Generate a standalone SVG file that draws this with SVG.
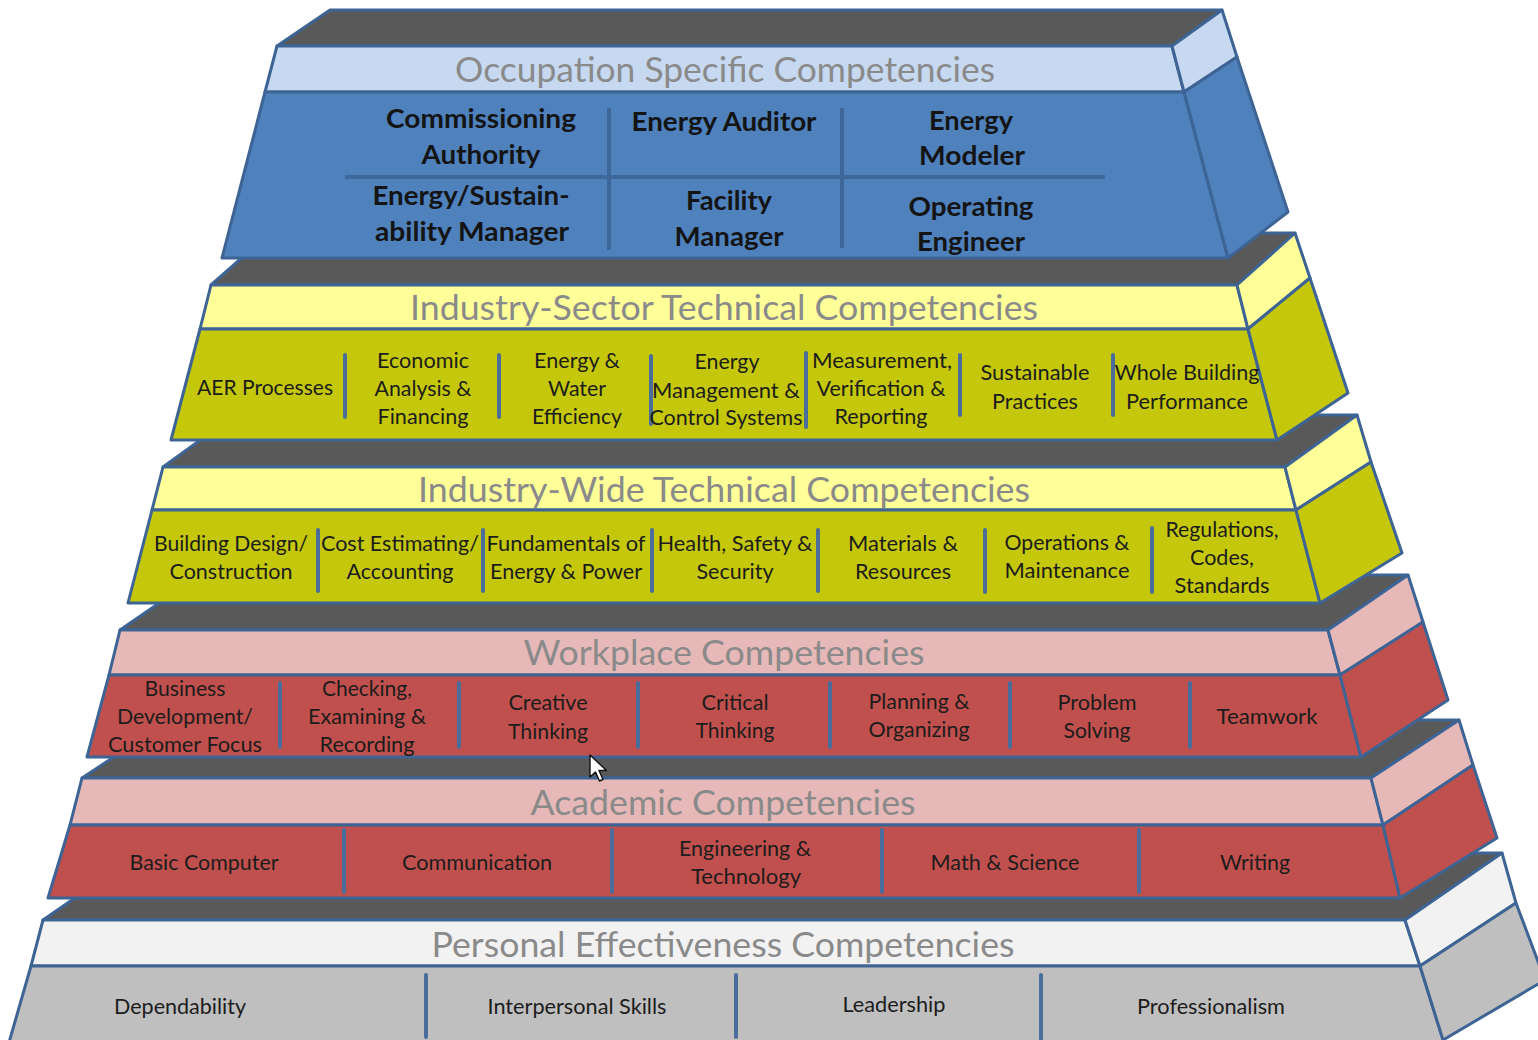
<svg xmlns="http://www.w3.org/2000/svg" width="1538" height="1040" viewBox="0 0 1538 1040">
  <style>
    .edge { stroke: #3d6494; stroke-width: 3; stroke-linejoin: round; }
    .top { fill: #595959; }
    .hb { fill: #c6d9f1; } .bb { fill: #4f81bd; }
    .hy { fill: #ffff99; } .by { fill: #c4c70a; }
    .hr { fill: #e6b9b8; } .br { fill: #c0504d; }
    .hg { fill: #f2f2f2; } .bg { fill: #bfbfbf; }
    .sep { stroke: #4a6d9b; stroke-width: 4; stroke-linecap: round; fill: none; }
    .sep1 { stroke: #3f6698; stroke-width: 4; fill: none; }
    text { font-family: Lato, "Liberation Sans", sans-serif; text-anchor: middle; }
    .ht { font-size: 34px; fill: #8a8a8a; }
    .ct { font-size: 21px; fill: #1c1c1c; }
    .bt { font-size: 27px; font-weight: 700; fill: #141414; }
  </style>
  <rect width="1538" height="1040" fill="#ffffff"/>

  <!-- Bottom tier: Personal Effectiveness -->
  <g id="tier-personal">
    <polygon class="top edge" points="140,853 1502,853 1405,920 43,920"/>
    <polygon class="hg edge" points="43,920 1405,920 1420,966 31,966"/>
    <polygon class="bg edge" points="31,966 1420,966 1445,1046 8,1046"/>
    <polygon class="hg edge" points="1405,920 1502,853 1516,903 1420,966"/>
    <polygon class="bg edge" points="1420,966 1516,903 1545,980 1443,1040"/>
    <text class="ht" x="723" y="957" textLength="583" lengthAdjust="spacingAndGlyphs">Personal Effectiveness Competencies</text>
    <path class="sep" d="M426,975V1037M736,975V1037M1041,975V1040"/>
    <text class="ct" x="180" y="1014" textLength="132" lengthAdjust="spacingAndGlyphs">Dependability</text>
    <text class="ct" x="577" y="1014" textLength="179" lengthAdjust="spacingAndGlyphs">Interpersonal Skills</text>
    <text class="ct" x="894" y="1012" textLength="103" lengthAdjust="spacingAndGlyphs">Leadership</text>
    <text class="ct" x="1211" y="1014" textLength="148" lengthAdjust="spacingAndGlyphs">Professionalism</text>
  </g>

  <!-- Academic -->
  <g id="tier-academic">
    <polygon class="top edge" points="170,720 1459,720 1371,778 82,778"/>
    <polygon class="hr edge" points="82,778 1371,778 1383,825 70,825"/>
    <polygon class="br edge" points="70,825 1383,825 1400,898 48,898"/>
    <polygon class="hr edge" points="1371,778 1459,720 1473,765 1383,825"/>
    <polygon class="br edge" points="1383,825 1473,765 1497,838 1400,898"/>
    <text class="ht" x="723" y="815" textLength="385" lengthAdjust="spacingAndGlyphs">Academic Competencies</text>
    <path class="sep" d="M344,830V892M612,830V892M882,830V892M1139,830V892"/>
    <text class="ct" x="204" y="870" textLength="149" lengthAdjust="spacingAndGlyphs">Basic Computer</text>
    <text class="ct" x="477" y="870" textLength="150" lengthAdjust="spacingAndGlyphs">Communication</text>
    <text class="ct" x="745" y="856" textLength="132" lengthAdjust="spacingAndGlyphs">Engineering &amp;</text>
    <text class="ct" x="746" y="884" textLength="110" lengthAdjust="spacingAndGlyphs">Technology</text>
    <text class="ct" x="1005" y="870" textLength="149" lengthAdjust="spacingAndGlyphs">Math &amp; Science</text>
    <text class="ct" x="1255" y="870" textLength="70" lengthAdjust="spacingAndGlyphs">Writing</text>
  </g>

  <!-- Workplace -->
  <g id="tier-workplace">
    <polygon class="top edge" points="200,575 1408,575 1328,630 120,630"/>
    <polygon class="hr edge" points="120,630 1328,630 1340,675 109,675"/>
    <polygon class="br edge" points="109,675 1340,675 1361,757 87,757"/>
    <polygon class="hr edge" points="1328,630 1408,575 1423,622 1340,675"/>
    <polygon class="br edge" points="1340,675 1423,622 1448,700 1361,757"/>
    <text class="ht" x="724" y="665" textLength="401" lengthAdjust="spacingAndGlyphs">Workplace Competencies</text>
    <path class="sep" d="M280,683V747M459,683V747M638,683V747M830,683V747M1010,683V747M1190,683V747"/>
    <text class="ct" x="185" y="696" textLength="81" lengthAdjust="spacingAndGlyphs">Business</text>
    <text class="ct" x="185" y="724" textLength="136" lengthAdjust="spacingAndGlyphs">Development/</text>
    <text class="ct" x="185" y="752" textLength="154" lengthAdjust="spacingAndGlyphs">Customer Focus</text>
    <text class="ct" x="367" y="696" textLength="90" lengthAdjust="spacingAndGlyphs">Checking,</text>
    <text class="ct" x="367" y="724" textLength="118" lengthAdjust="spacingAndGlyphs">Examining &amp;</text>
    <text class="ct" x="367" y="752" textLength="95" lengthAdjust="spacingAndGlyphs">Recording</text>
    <text class="ct" x="548" y="710" textLength="79" lengthAdjust="spacingAndGlyphs">Creative</text>
    <text class="ct" x="548" y="739" textLength="80" lengthAdjust="spacingAndGlyphs">Thinking</text>
    <text class="ct" x="735" y="710" textLength="67" lengthAdjust="spacingAndGlyphs">Critical</text>
    <text class="ct" x="735" y="738" textLength="79" lengthAdjust="spacingAndGlyphs">Thinking</text>
    <text class="ct" x="919" y="709" textLength="101" lengthAdjust="spacingAndGlyphs">Planning &amp;</text>
    <text class="ct" x="919" y="737" textLength="101" lengthAdjust="spacingAndGlyphs">Organizing</text>
    <text class="ct" x="1097" y="710" textLength="79" lengthAdjust="spacingAndGlyphs">Problem</text>
    <text class="ct" x="1097" y="738" textLength="67" lengthAdjust="spacingAndGlyphs">Solving</text>
    <text class="ct" x="1267" y="724" textLength="101" lengthAdjust="spacingAndGlyphs">Teamwork</text>
  </g>

  <!-- Industry-Wide Technical -->
  <g id="tier-industry-wide">
    <polygon class="top edge" points="235,415 1357,415 1285,467 163,467"/>
    <polygon class="hy edge" points="163,467 1285,467 1296,510 152,510"/>
    <polygon class="by edge" points="152,510 1296,510 1320,603 128,603"/>
    <polygon class="hy edge" points="1285,467 1357,415 1371,462 1296,510"/>
    <polygon class="by edge" points="1296,510 1371,462 1402,553 1320,603"/>
    <text class="ht" x="724" y="502" textLength="612" lengthAdjust="spacingAndGlyphs">Industry-Wide Technical Competencies</text>
    <path class="sep" d="M318,530V591M483,530V591M652,530V591M818,530V591M985,530V592M1152,528V592"/>
    <text class="ct" x="231" y="551" textLength="154" lengthAdjust="spacingAndGlyphs">Building Design/</text>
    <text class="ct" x="231" y="579" textLength="123" lengthAdjust="spacingAndGlyphs">Construction</text>
    <text class="ct" x="400" y="551" textLength="158" lengthAdjust="spacingAndGlyphs">Cost Estimating/</text>
    <text class="ct" x="400" y="579" textLength="107" lengthAdjust="spacingAndGlyphs">Accounting</text>
    <text class="ct" x="566" y="551" textLength="159" lengthAdjust="spacingAndGlyphs">Fundamentals of</text>
    <text class="ct" x="566" y="579" textLength="152" lengthAdjust="spacingAndGlyphs">Energy &amp; Power</text>
    <text class="ct" x="735" y="551" textLength="155" lengthAdjust="spacingAndGlyphs">Health, Safety &amp;</text>
    <text class="ct" x="735" y="579" textLength="77" lengthAdjust="spacingAndGlyphs">Security</text>
    <text class="ct" x="903" y="551" textLength="110" lengthAdjust="spacingAndGlyphs">Materials &amp;</text>
    <text class="ct" x="903" y="579" textLength="96" lengthAdjust="spacingAndGlyphs">Resources</text>
    <text class="ct" x="1067" y="550" textLength="125" lengthAdjust="spacingAndGlyphs">Operations &amp;</text>
    <text class="ct" x="1067" y="578" textLength="125" lengthAdjust="spacingAndGlyphs">Maintenance</text>
    <text class="ct" x="1222" y="537" textLength="113" lengthAdjust="spacingAndGlyphs">Regulations,</text>
    <text class="ct" x="1222" y="565" textLength="64" lengthAdjust="spacingAndGlyphs">Codes,</text>
    <text class="ct" x="1222" y="593" textLength="95" lengthAdjust="spacingAndGlyphs">Standards</text>
  </g>

  <!-- Industry-Sector Technical -->
  <g id="tier-industry-sector">
    <polygon class="top edge" points="270,233 1295,233 1237,285 211,285"/>
    <polygon class="hy edge" points="211,285 1237,285 1248,329 200,329"/>
    <polygon class="by edge" points="200,329 1248,329 1277,440 171,440"/>
    <polygon class="hy edge" points="1237,285 1295,233 1310,278 1248,329"/>
    <polygon class="by edge" points="1248,329 1310,278 1348,393 1277,440"/>
    <text class="ht" x="724" y="320" textLength="628" lengthAdjust="spacingAndGlyphs">Industry-Sector Technical Competencies</text>
    <path class="sep" d="M345,355V417M499,355V417M651,356V424M806,353V427M960,355V415M1113,355V415"/>
    <text class="ct" x="265" y="395" textLength="136" lengthAdjust="spacingAndGlyphs">AER Processes</text>
    <text class="ct" x="423" y="368" textLength="92" lengthAdjust="spacingAndGlyphs">Economic</text>
    <text class="ct" x="423" y="396" textLength="97" lengthAdjust="spacingAndGlyphs">Analysis &amp;</text>
    <text class="ct" x="423" y="424" textLength="91" lengthAdjust="spacingAndGlyphs">Financing</text>
    <text class="ct" x="577" y="368" textLength="86" lengthAdjust="spacingAndGlyphs">Energy &amp;</text>
    <text class="ct" x="577" y="396" textLength="58" lengthAdjust="spacingAndGlyphs">Water</text>
    <text class="ct" x="577" y="424" textLength="90" lengthAdjust="spacingAndGlyphs">Efficiency</text>
    <text class="ct" x="727" y="369" textLength="65" lengthAdjust="spacingAndGlyphs">Energy</text>
    <text class="ct" x="726" y="398" textLength="148" lengthAdjust="spacingAndGlyphs">Management &amp;</text>
    <text class="ct" x="726" y="425" textLength="153" lengthAdjust="spacingAndGlyphs">Control Systems</text>
    <text class="ct" x="882" y="368" textLength="140" lengthAdjust="spacingAndGlyphs">Measurement,</text>
    <text class="ct" x="881" y="396" textLength="129" lengthAdjust="spacingAndGlyphs">Verification &amp;</text>
    <text class="ct" x="881" y="424" textLength="93" lengthAdjust="spacingAndGlyphs">Reporting</text>
    <text class="ct" x="1035" y="380" textLength="109" lengthAdjust="spacingAndGlyphs">Sustainable</text>
    <text class="ct" x="1035" y="409" textLength="86" lengthAdjust="spacingAndGlyphs">Practices</text>
    <text class="ct" x="1187" y="380" textLength="145" lengthAdjust="spacingAndGlyphs">Whole Building</text>
    <text class="ct" x="1187" y="409" textLength="122" lengthAdjust="spacingAndGlyphs">Performance</text>
  </g>

  <!-- Top tier: Occupation Specific -->
  <g id="tier-occupation">
    <polygon class="top edge" points="330,10 1222,10 1172,46 277,46"/>
    <polygon class="hb edge" points="277,46 1172,46 1184,92 265,92"/>
    <polygon class="bb edge" points="265,92 1184,92 1228,258 222,258"/>
    <polygon class="hb edge" points="1172,46 1222,10 1237,57 1184,92"/>
    <polygon class="bb edge" points="1184,92 1237,57 1288,212 1228,258"/>
    <text class="ht" x="725" y="82" textLength="540" lengthAdjust="spacingAndGlyphs">Occupation Specific Competencies</text>
    <path class="sep1" d="M345,177H1105M609,108V250M842,108V248"/>
    <text class="bt" x="481" y="128" textLength="190" lengthAdjust="spacingAndGlyphs">Commissioning</text>
    <text class="bt" x="481" y="164" textLength="119" lengthAdjust="spacingAndGlyphs">Authority</text>
    <text class="bt" x="724" y="131" textLength="185" lengthAdjust="spacingAndGlyphs">Energy Auditor</text>
    <text class="bt" x="971" y="130" textLength="84" lengthAdjust="spacingAndGlyphs">Energy</text>
    <text class="bt" x="972" y="165" textLength="106" lengthAdjust="spacingAndGlyphs">Modeler</text>
    <text class="bt" x="471" y="205" textLength="197" lengthAdjust="spacingAndGlyphs">Energy/Sustain-</text>
    <text class="bt" x="472" y="241" textLength="194" lengthAdjust="spacingAndGlyphs">ability Manager</text>
    <text class="bt" x="729" y="210" textLength="86" lengthAdjust="spacingAndGlyphs">Facility</text>
    <text class="bt" x="729" y="246" textLength="109" lengthAdjust="spacingAndGlyphs">Manager</text>
    <text class="bt" x="971" y="216" textLength="125" lengthAdjust="spacingAndGlyphs">Operating</text>
    <text class="bt" x="971" y="251" textLength="108" lengthAdjust="spacingAndGlyphs">Engineer</text>
  </g>

  <!-- Mouse pointer -->
  <polygon points="590,755 590,777 595.5,772 599.5,781 603,779.5 599,770.5 606.5,770.5" fill="#ffffff" stroke="#111111" stroke-width="1.4" stroke-linejoin="round"/>
</svg>
